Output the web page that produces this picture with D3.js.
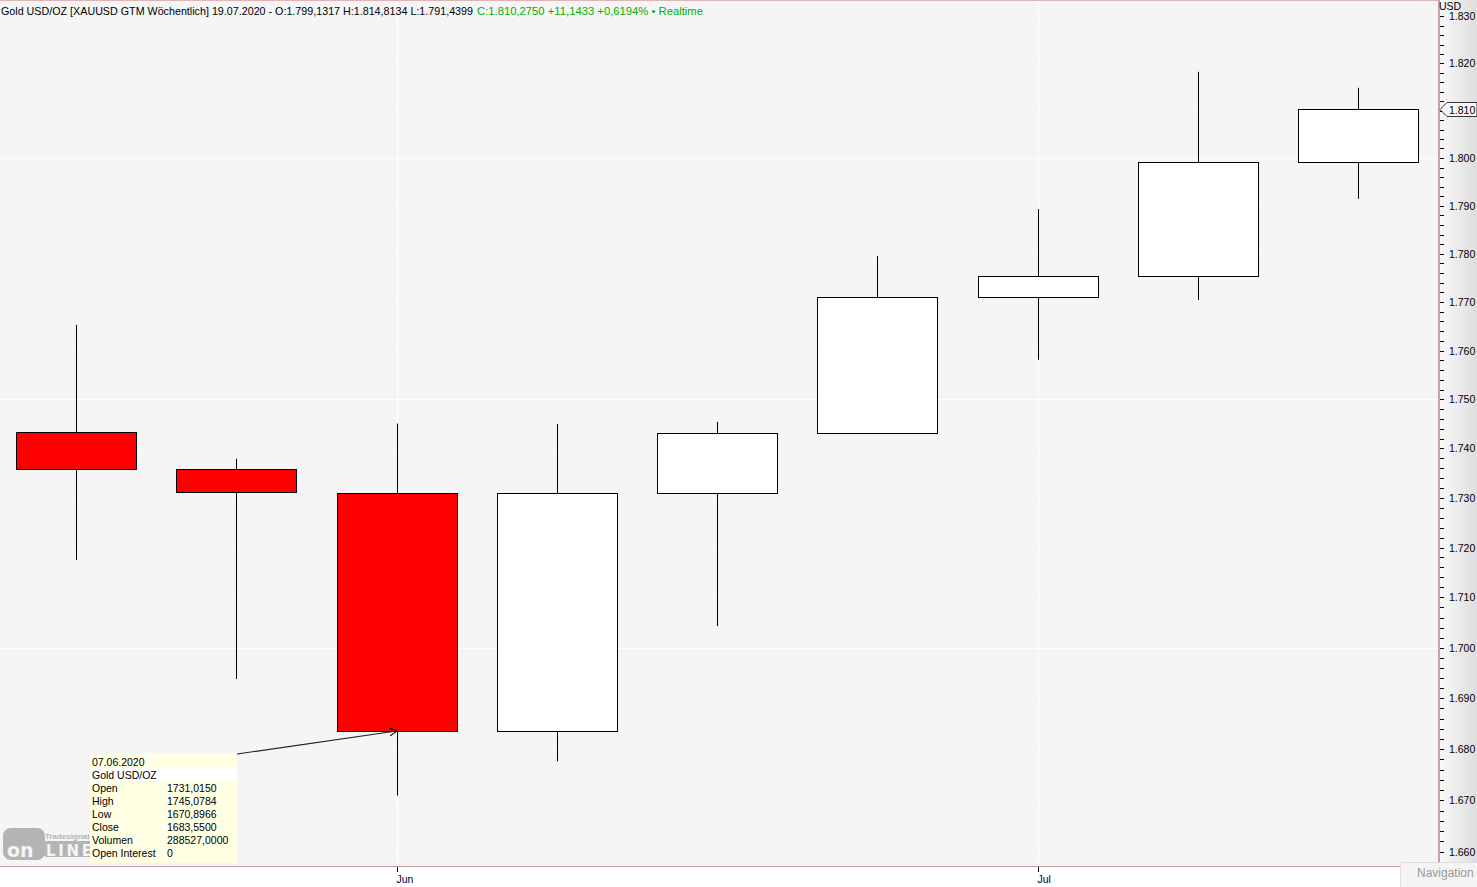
<!DOCTYPE html>
<html>
<head>
<meta charset="utf-8">
<script src="https://cdn.jsdelivr.net/npm/d3@7"></script>
<style>
  body { margin: 0; background: #fff; }
  svg { display: block; font-family: 'Liberation Sans', Arial, sans-serif; }
</style>
</head>
<body>
<div id="chart"></div>
<script>
// weekly candles (Gold USD/OZ)
const weeks = ['24.05.2020', '31.05.2020', '07.06.2020', '14.06.2020', '21.06.2020', '28.06.2020', '05.07.2020', '12.07.2020', '19.07.2020'];
const opens = [1743.3, 1735.8, 1731.015, 1683.6, 1731.0, 1743.1, 1771.0, 1775.4, 1799.1317];
const highs = [1765.3, 1737.9, 1745.0784, 1745.0, 1745.4, 1779.5, 1789.3, 1818.2, 1814.8134];
const lows = [1717.5, 1693.8, 1670.8966, 1677.6, 1704.3, 1743.1, 1758.1, 1770.4, 1791.4399];
const closes = [1735.8, 1731.2, 1683.55, 1731.0, 1743.1, 1771.0, 1775.4, 1799.2, 1810.275];
const monthTicks = [['07.06.2020', 'Jun'], ['05.07.2020', 'Jul']];
const yLabels = d3.range(1660, 1831, 10);
const yMinor = d3.range(1660, 1832, 2);
const yMajorGrid = [1700, 1750, 1800];
const lastPrice = 1810.275;
const tipRows = [['Open', '1731,0150'], ['High', '1745,0784'], ['Low', '1670,8966'], ['Close', '1683,5500'], ['Volumen', '288527,0000'], ['Open Interest', '0']];

const width = 1477, height = 887;
const plotRight = 1438, plotBottom = 866;

const svg = d3.select('#chart').append('svg')
    .attr('width', width).attr('height', height);

const defs = svg.append('defs');
const grad = defs.append('linearGradient').attr('id', 'axisGrad');
grad.append('stop').attr('offset', '0%').attr('stop-color', '#fafafa');
grad.append('stop').attr('offset', '100%').attr('stop-color', '#dedede');
defs.append('marker').attr('id', 'arr').attr('viewBox', '0 0 10 10')
    .attr('refX', 9).attr('refY', 5).attr('markerWidth', 8).attr('markerHeight', 8)
    .attr('orient', 'auto').attr('markerUnits', 'userSpaceOnUse')
    .append('path').attr('d', 'M0,0 L10,5 L0,10').attr('fill', 'none').attr('stroke', '#000').attr('stroke-width', 1.3);

const x = d3.scalePoint().domain(weeks).range([76, 1358]);
const y = d3.scaleLog().domain([1660, 1830]).range([851.7, 16.4]);
const bodyW = 120;

// backgrounds
svg.append('rect').attr('width', plotRight).attr('height', plotBottom).attr('fill', '#f5f5f5');
svg.append('rect').attr('x', plotRight).attr('width', width - plotRight).attr('height', plotBottom).attr('fill', 'url(#axisGrad)');

// gridlines
const grid = svg.append('g');
grid.selectAll('line.dot').data(yLabels.filter(v => !yMajorGrid.includes(v))).join('line')
    .attr('x1', 0).attr('x2', plotRight)
    .attr('y1', d => Math.round(y(d)) + 0.5).attr('y2', d => Math.round(y(d)) + 0.5)
    .attr('stroke', '#fff').attr('stroke-dasharray', '1,5');
grid.selectAll('line.maj').data(yMajorGrid).join('line')
    .attr('x1', 0).attr('x2', plotRight)
    .attr('y1', d => Math.round(y(d)) + 0.5).attr('y2', d => Math.round(y(d)) + 0.5)
    .attr('stroke', '#fff');
grid.selectAll('line.v').data(monthTicks).join('line')
    .attr('x1', d => Math.round(x(d[0])) + 0.5).attr('x2', d => Math.round(x(d[0])) + 0.5)
    .attr('y1', 0).attr('y2', plotBottom)
    .attr('stroke', '#fff');

// borders
svg.append('line').attr('x1', 0).attr('x2', plotRight).attr('y1', 0.5).attr('y2', 0.5).attr('stroke', '#e0b4b4');
svg.append('line').attr('x1', 0).attr('x2', plotRight).attr('y1', plotBottom + 0.5).attr('y2', plotBottom + 0.5).attr('stroke', '#c89c9c');
svg.append('line').attr('x1', plotRight + 1).attr('x2', plotRight + 1).attr('y1', 0).attr('y2', plotBottom).attr('stroke', '#c9a3a3').attr('stroke-width', 2);

// logo
const logo = svg.append('g').attr('fill', '#b4b4b4').attr('font-family', 'DejaVu Sans');
logo.append('rect').attr('x', 3).attr('y', 828).attr('width', 42).attr('height', 32).attr('rx', 8);
logo.append('rect').attr('x', 44).attr('y', 841).attr('width', 50).attr('height', 16).attr('rx', 3);
logo.append('text').attr('x', 7).attr('y', 857).attr('font-size', 19).attr('font-weight', 'bold')
    .attr('fill', '#f5f5f5').text('on');
logo.append('text').attr('x', 46).attr('y', 855.5).attr('font-size', 15).attr('font-weight', 'bold')
    .attr('fill', '#f5f5f5').attr('textLength', 46).text('LINE');
logo.append('text').attr('x', 45).attr('y', 839).attr('font-size', 8).attr('font-weight', 'bold')
    .attr('font-family', 'Liberation Sans').text('Tradesignal');

// candles
const candles = svg.append('g').selectAll('g').data(weeks).join('g');
candles.append('line')
    .attr('x1', d => Math.round(x(d)) + 0.5).attr('x2', d => Math.round(x(d)) + 0.5)
    .attr('y1', (d, i) => y(highs[i])).attr('y2', (d, i) => y(lows[i]))
    .attr('stroke', '#000');
candles.append('rect')
    .attr('x', d => Math.round(x(d) - bodyW / 2) + 0.5)
    .attr('y', (d, i) => Math.round(y(Math.max(opens[i], closes[i]))) + 0.5)
    .attr('width', bodyW)
    .attr('height', (d, i) => Math.max(1, Math.round(y(Math.min(opens[i], closes[i])) - y(Math.max(opens[i], closes[i])))))
    .attr('fill', (d, i) => closes[i] < opens[i] ? '#ff0000' : '#ffffff')
    .attr('stroke', '#000');

// tooltip
const tip = svg.append('g').attr('font-size', 10.5).attr('fill', '#000');
tip.append('rect').attr('x', 90).attr('y', 753).attr('width', 147).attr('height', 110).attr('fill', '#ffffe4');
tip.append('rect').attr('x', 90).attr('y', 768).attr('width', 147).attr('height', 13).attr('fill', '#ffffff');
tip.append('text').attr('x', 92).attr('y', 766).text(weeks[2]);
tip.append('text').attr('x', 92).attr('y', 779).text('Gold USD/OZ');
tipRows.forEach((r, i) => {
  tip.append('text').attr('x', 92).attr('y', 792 + i * 13).text(r[0]);
  tip.append('text').attr('x', 167).attr('y', 792 + i * 13).text(r[1]);
});
svg.append('line').attr('x1', 237).attr('y1', 754).attr('x2', x(weeks[2])).attr('y2', y(closes[2]))
    .attr('stroke', '#222').attr('stroke-width', 1.2).attr('marker-end', 'url(#arr)');

// right axis
const yAxis = svg.append('g').attr('font-size', 10.5);
yAxis.selectAll('line.minor').data(yMinor.filter(v => y(v) > 3)).join('line')
    .attr('x1', plotRight + 2).attr('x2', plotRight + 6)
    .attr('y1', d => Math.round(y(d)) + 0.5).attr('y2', d => Math.round(y(d)) + 0.5)
    .attr('stroke', '#000');
yAxis.selectAll('text').data(yLabels.filter(v => Math.abs(v - lastPrice) > 3)).join('text')
    .attr('x', 1449).attr('y', d => y(d) + 4)
    .attr('fill', '#000')
    .text(d => d3.format(',')(d).replace(',', '.'));
svg.append('text').attr('x', 1439).attr('y', 10).attr('font-size', 10.5).text('USD');

// last price marker
const yl = Math.round(y(lastPrice)) + 0.5;
svg.append('path')
    .attr('d', `M1440,${yl} L1447,${yl - 7} L1477,${yl - 7} L1477,${yl + 7} L1447,${yl + 7} Z`)
    .attr('fill', '#f8f8f8').attr('stroke', '#333');
svg.append('text').attr('x', 1449).attr('y', yl + 4).attr('font-size', 10.5).text('1.810');

// x axis
const xAxis = svg.append('g').attr('font-size', 10.5);
monthTicks.forEach(([w, lab]) => {
  const px = Math.round(x(w)) + 0.5;
  xAxis.append('line').attr('x1', px).attr('x2', px).attr('y1', plotBottom + 1).attr('y2', plotBottom + 6).attr('stroke', '#000');
  xAxis.append('text').attr('x', px - 1).attr('y', 883).attr('fill', '#000033').text(lab);
});

// navigation button
svg.append('rect').attr('x', 1400.5).attr('y', 862.5).attr('width', 80).attr('height', 30).attr('rx', 3)
    .attr('fill', '#f4f4f4').attr('stroke', '#ddd');
svg.append('text').attr('x', 1417).attr('y', 877).attr('font-size', 12)
    .attr('fill', '#999').text('Navigation');

// header
svg.append('text').attr('x', 1).attr('y', 15).attr('font-size', 11).attr('fill', '#000')
    .attr('textLength', 472).attr('lengthAdjust', 'spacingAndGlyphs')
    .text('Gold USD/OZ [XAUUSD GTM Wöchentlich] 19.07.2020 - O:1.799,1317 H:1.814,8134 L:1.791,4399');
svg.append('text').attr('x', 477).attr('y', 15).attr('font-size', 11).attr('fill', '#00b000')
    .attr('textLength', 226).attr('lengthAdjust', 'spacingAndGlyphs')
    .text('C:1.810,2750 +11,1433 +0,6194% • Realtime');
</script>
</body>
</html>
